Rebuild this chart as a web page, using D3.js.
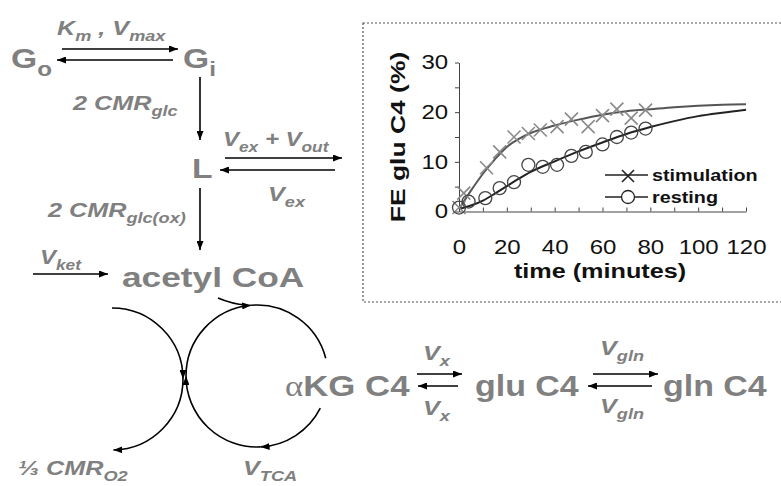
<!DOCTYPE html>
<html>
<head>
<meta charset="utf-8">
<style>
  body { margin: 0; background: #fff; }
  svg text { font-family: "Liberation Sans", Arial, sans-serif; }
</style>
<script src="https://cdn.jsdelivr.net/npm/d3@7"></script>
</head>
<body>
<svg id="fig" width="781" height="486"></svg>
<script>
// inset chart data
var stimT  = [0, 2, 11.5, 17, 23, 29, 34, 41, 47, 54, 60, 66, 72, 78];
var stimFE = [0.8, 3.7, 8.8, 12.0, 15.0, 15.7, 16.4, 17.1, 18.6, 17.1, 19.3, 20.6, 18.8, 20.4];
var restT  = [0, 4, 11, 17, 23, 29, 35, 41, 47, 53, 60, 66, 72, 78];
var restFE = [0.8, 2.0, 2.7, 4.7, 5.9, 9.4, 9.0, 9.4, 11.2, 12.0, 13.5, 15.0, 15.9, 16.7];
// fitted curves
var fitT    = [0, 5, 10, 15, 20, 25, 30, 40, 50, 60, 70, 80, 90, 100, 110, 120];
var stimFit = [0.5, 4.2, 7.6, 10.5, 13.0, 14.6, 15.8, 17.3, 18.5, 19.5, 20.2, 20.6, 21.0, 21.3, 21.5, 21.6];
var restFit = [0.5, 1.2, 2.2, 3.6, 5.1, 6.6, 8.0, 10.1, 12.1, 13.9, 15.6, 17.0, 18.2, 19.2, 19.9, 20.5];
var yTicks = [0, 5, 10, 15, 20, 25, 30];
var xTicks = [0, 10, 20, 30, 40, 50, 60, 70, 80, 90, 100, 110, 120];
var seriesNames = ["stimulation", "resting"];

var SX = 1.2; // the original figure is stretched sideways
var GREY = "#808080";

var svg = d3.select("#fig");
svg.append("rect").attr("width", 781).attr("height", 486).attr("fill", "#fff");

svg.append("defs").append("marker")
    .attr("id", "ah")
    .attr("viewBox", "0 0 10 10")
    .attr("refX", 10).attr("refY", 5)
    .attr("markerWidth", 9).attr("markerHeight", 7)
    .attr("markerUnits", "userSpaceOnUse")
    .attr("preserveAspectRatio", "none")
    .attr("orient", "auto")
  .append("path").attr("d", "M0,0 L10,5 L0,10 z").attr("fill", "#000");

// label helper: parts = [[text, "n"|"s"|"a"], ...]
function label(x, y, parts, size, italic, sx) {
    var t = svg.append("text")
        .attr("transform", "translate(" + x + "," + y + ") scale(" + (sx || SX) + ",1)")
        .attr("fill", GREY)
        .attr("font-weight", "bold")
        .attr("font-style", italic ? "italic" : "normal")
        .attr("font-size", size);
    var shift = 0;
    parts.forEach(function(p) {
        var s = t.append("tspan").text(p[0]);
        if (p[1] == "s") {
            var d = Math.round(size * 0.28);
            s.attr("font-size", size * 0.72).attr("dy", d - shift);
            shift = d;
        } else {
            s.attr("dy", -shift);
            shift = 0;
            if (p[1] == "a") s.attr("font-family", "Liberation Serif, serif").attr("font-weight", "normal");
        }
    });
    return t;
}

function arrow(x1, y1, x2, y2) {
    svg.append("line").attr("x1", x1).attr("y1", y1).attr("x2", x2).attr("y2", y2)
        .attr("stroke", "#000").attr("stroke-width", 1.6).attr("marker-end", "url(#ah)");
}

function arcSeg(cx, cy, r, a0, a1, head) {
    var p = d3.path();
    p.arc(cx, cy, r, a0, a1, false);
    var el = svg.append("path").attr("d", p.toString()).attr("fill", "none")
        .attr("stroke", "#000").attr("stroke-width", 1.6);
    if (head) el.attr("marker-end", "url(#ah)");
}

// ---------- pathway diagram ----------
label(11, 68, [["G", "n"], ["o", "s"]], 28);
label(183, 68, [["G", "n"], ["i", "s"]], 28);
label(57, 35, [["K", "n"], ["m", "s"], [" , V", "n"], ["max", "s"]], 21, true);
arrow(62, 49, 178, 49);
arrow(173, 60, 57, 60);
arrow(200, 77, 200, 140);
label(73, 110, [["2 CMR", "n"], ["glc", "s"]], 21, true);

label(192, 178, [["L", "n"]], 28);
label(223, 146, [["V", "n"], ["ex", "s"], [" + V", "n"], ["out", "s"]], 20, true);
arrow(225, 158, 342, 158);
arrow(335, 170, 220, 170);
label(268, 201, [["V", "n"], ["ex", "s"]], 21, true);
arrow(200, 188, 200, 250);
label(48, 217, [["2 CMR", "n"], ["glc(ox)", "s"]], 21, true);

label(40, 264, [["V", "n"], ["ket", "s"]], 20, true);
arrow(33, 274, 108, 274);
label(122, 287, [["acetyl CoA", "n"]], 28, false, 1.26);

// TCA cycle arcs
var lc = {x: 112, y: 379, r: 71};
arcSeg(lc.x, lc.y, lc.r, -Math.PI / 2, 0, true);
arcSeg(lc.x, lc.y, lc.r, 0, Math.PI / 2 - 0.02, true);
var rc = {x: 257, y: 376, r: 71};
arcSeg(rc.x, rc.y, rc.r, 0.47, 1.52, true);
arcSeg(rc.x, rc.y, rc.r, 1.52, Math.PI, true);
arcSeg(rc.x, rc.y, rc.r, Math.PI, 4.63, true);
arcSeg(rc.x, rc.y, rc.r, 4.63, 6.03, false);
svg.append("path").attr("d", "M218,298 Q232,304 246,305").attr("fill", "none")
    .attr("stroke", "#000").attr("stroke-width", 1.6);

label(18, 475, [["\u2153 ", "n"], ["CMR", "n"], ["O2", "s"]], 21, true);
label(243, 475, [["V", "n"], ["TCA", "s"]], 21, true);

label(285, 396, [["\u03b1", "a"], ["KG C4", "n"]], 29);
arrow(417, 374, 462, 374);
arrow(458, 386, 418, 386);
label(423, 360, [["V", "n"], ["x", "s"]], 21, true);
label(423, 415, [["V", "n"], ["x", "s"]], 21, true);
label(475, 396, [["glu C4", "n"]], 29, false, 1.17);
arrow(593, 374, 658, 374);
arrow(652, 386, 588, 386);
label(600, 355, [["V", "n"], ["gln", "s"]], 21, true);
label(600, 413, [["V", "n"], ["gln", "s"]], 21, true);
label(663, 396, [["gln C4", "n"]], 29, false, 1.17);

// ---------- inset chart ----------
svg.append("rect").attr("x", 363).attr("y", 23).attr("width", 430).attr("height", 279)
    .attr("fill", "none").attr("stroke", "#555").attr("stroke-width", 1.2)
    .attr("stroke-dasharray", "2,2");

var x = d3.scaleLinear().domain([0, 120]).range([459, 746]);
var y = d3.scaleLinear().domain([0, 30]).range([211.5, 62.5]);

var yAxis = d3.axisLeft(y).tickValues(yTicks).tickSize(4).tickSizeOuter(0).tickPadding(5)
    .tickFormat(function(d) { return d % 10 == 0 ? d : ""; });
var xAxis = d3.axisBottom(x).tickValues(xTicks).tickSize(-4).tickSizeOuter(0)
    .tickFormat(function(d) { return d % 20 == 0 ? d : ""; });

var gy = svg.append("g").attr("transform", "translate(" + x(0) + ",0)").call(yAxis);
var gx = svg.append("g").attr("transform", "translate(0," + y(0) + ")").call(xAxis);
[gx, gy].forEach(function(g) {
    g.selectAll("path, line").attr("stroke", "#444");
    g.selectAll("text").attr("fill", "#111").attr("font-size", 20)
        .attr("font-family", "Liberation Sans, Arial, sans-serif");
});
gy.selectAll("text").attr("transform", "scale(" + SX + ",1)");
gx.selectAll("text").attr("y", 43).attr("dy", null).attr("transform", "scale(" + SX + ",1)");

svg.append("text")
    .attr("transform", "translate(600,278) scale(" + SX + ",1)")
    .attr("text-anchor", "middle").attr("font-weight", "bold").attr("font-size", 21)
    .attr("fill", "#111").text("time (minutes)");
svg.append("text")
    .attr("transform", "translate(405,137) rotate(-90) scale(1.26,1)")
    .attr("text-anchor", "middle").attr("font-weight", "bold").attr("font-size", 21)
    .attr("fill", "#111").text("FE glu C4 (%)");

var line = d3.line()
    .x(function(d) { return x(d[0]); })
    .y(function(d) { return y(d[1]); })
    .curve(d3.curveMonotoneX);

svg.append("path").datum(d3.zip(fitT, stimFit)).attr("d", line)
    .attr("fill", "none").attr("stroke", "#555").attr("stroke-width", 2);
svg.append("path").datum(d3.zip(fitT, restFit)).attr("d", line)
    .attr("fill", "none").attr("stroke", "#222").attr("stroke-width", 2);

function cross(g, cx, cy, h, col) {
    g.append("path")
        .attr("d", "M" + (cx - h) + "," + (cy - h) + "L" + (cx + h) + "," + (cy + h) +
                   "M" + (cx - h) + "," + (cy + h) + "L" + (cx + h) + "," + (cy - h))
        .attr("stroke", col).attr("stroke-width", 1.6).attr("fill", "none");
}

var marks = svg.append("g");
d3.zip(stimT, stimFE).forEach(function(d) { cross(marks, x(d[0]), y(d[1]), 6.5, "#8a8a8a"); });
marks.selectAll("circle").data(d3.zip(restT, restFE)).enter().append("circle")
    .attr("cx", function(d) { return x(d[0]); })
    .attr("cy", function(d) { return y(d[1]); })
    .attr("r", 6.5)
    .attr("fill", "none").attr("stroke", "#444").attr("stroke-width", 1.3);

// legend
var leg = svg.append("g");
seriesNames.forEach(function(name, i) {
    var ly = 175 + i * 22;
    leg.append("line").attr("x1", 605).attr("x2", 648).attr("y1", ly).attr("y2", ly)
        .attr("stroke", "#222").attr("stroke-width", 1.6);
    if (i == 0) cross(leg, 628, ly + 1, 6, "#222");
    else leg.append("circle").attr("cx", 628).attr("cy", ly).attr("r", 6.5)
        .attr("fill", "#fff").attr("stroke", "#222").attr("stroke-width", 1.3);
    leg.append("text")
        .attr("transform", "translate(652," + (ly + 6) + ") scale(" + SX + ",1)")
        .attr("font-weight", "bold").attr("font-size", 16.5).attr("fill", "#111")
        .text(name);
});
</script>
</body>
</html>
